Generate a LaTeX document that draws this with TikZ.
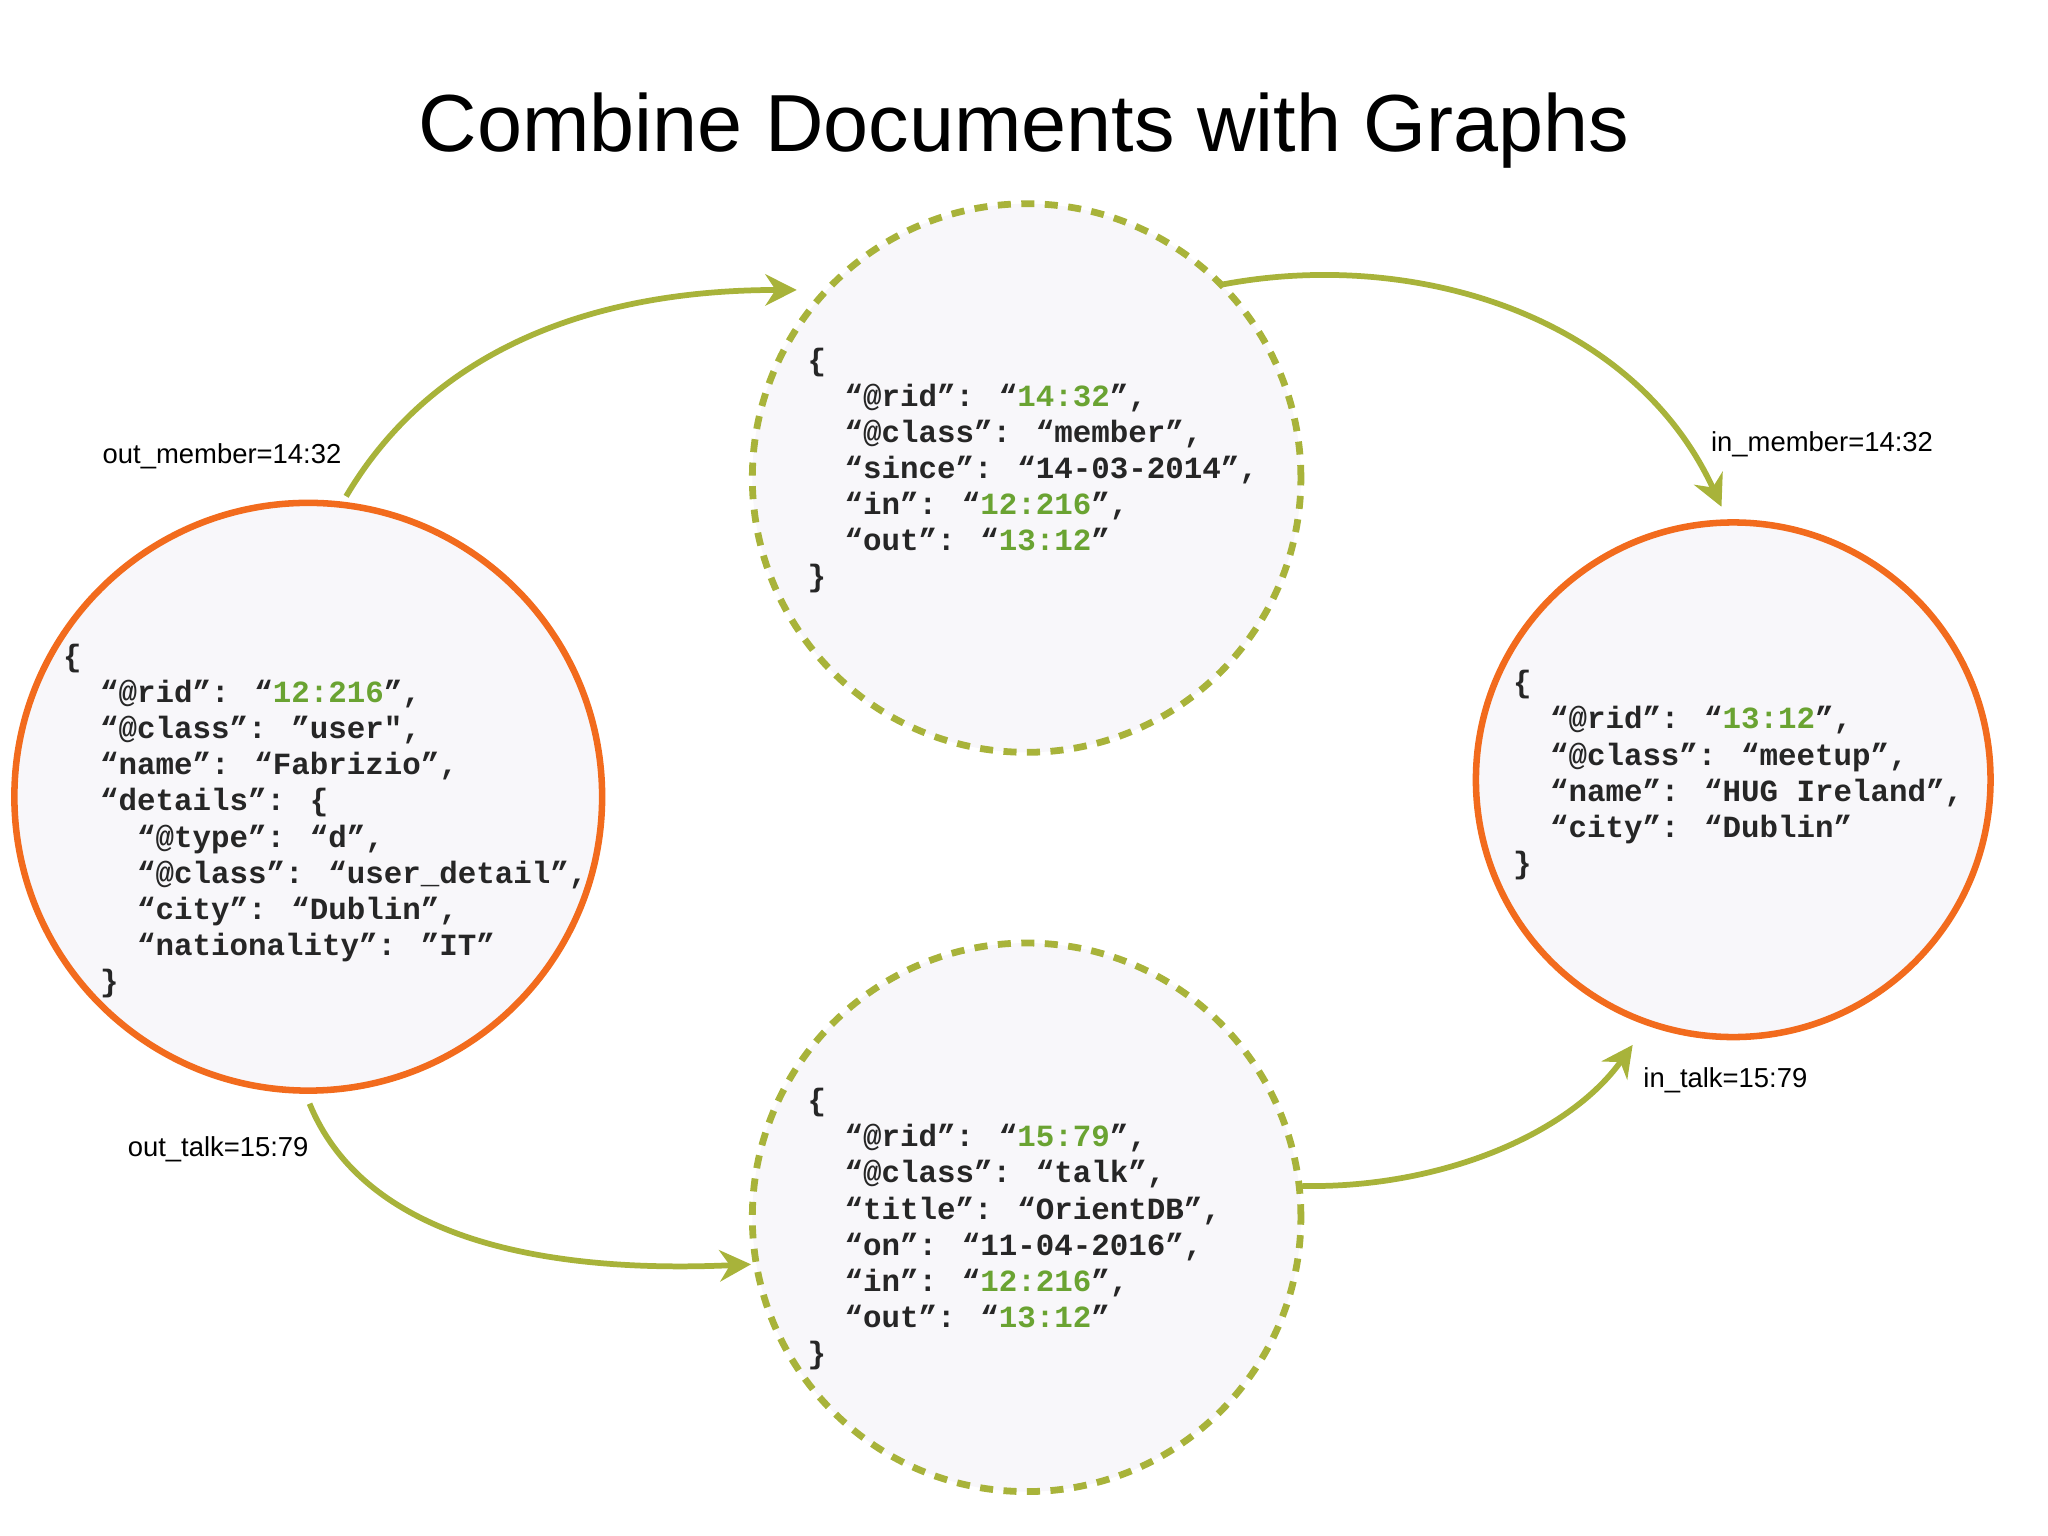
\documentclass[tikz,border=0pt]{standalone}
\usepackage{fontspec}
\setmainfont{Liberation Sans}
\newfontfamily\monof{Liberation Mono}
\usetikzlibrary{arrows.meta}
\definecolor{orng}{HTML}{F26B1D}
\definecolor{olive}{HTML}{A8B33A}
\definecolor{jgreen}{HTML}{6AA332}
\definecolor{fillc}{HTML}{F8F7FA}
\newcommand{\gv}[1]{\textcolor{jgreen}{#1}}
\newcommand{\ii}{\phantom{xx}}
\tikzset{
  doc/.style={circle,draw=orng,line width=2.5pt,fill=fillc,inner sep=0pt},
  edge/.style={circle,draw=olive,line width=2.6pt,dash pattern=on 5pt off 4pt,fill=fillc,inner sep=0pt},
  json/.style={anchor=north west,inner sep=0pt,align=left,font=\monof\bfseries\fontsize{11.8}{13.8}\selectfont,text=black!85},
  conn/.style={draw=olive,line width=2.2pt,-{Stealth[length=12pt,width=12pt]}},
  lab/.style={font=\fontsize{10.5}{12}\selectfont}
}
\begin{document}
\begin{tikzpicture}[x=0.5pt,y=-0.5pt]
\useasboundingbox (0,0) rectangle (1568,1176);
\node[font=\fontsize{31}{36}\selectfont] (title) at (784,100) {Combine Documents with Graphs};
\node[doc,minimum size=225pt] (user) at (236,610) {};
\node[doc,minimum size=197pt] (meet) at (1327,597) {};
\node[edge,minimum size=210pt] (member) at (786,366) {};
\node[edge,minimum size=210pt] (talk) at (786,932) {};
\node[json] (tmember) at (618,266) {\{\\
\ii“@rid”: “\gv{14:32}”,\\
\ii“@class”: “member”,\\
\ii“since”: “14-03-2014”,\\
\ii“in”: “\gv{12:216}”,\\
\ii“out”: “\gv{13:12}”\\
\}};
\node[json] (tuser) at (48,493) {\{\\
\ii“@rid”: “\gv{12:216}”,\\
\ii“@class”: ”user",\\
\ii“name”: “Fabrizio”,\\
\ii“details”: \{\\
\ii\ii“@type”: “d”,\\
\ii\ii“@class”: “user\_detail”,\\
\ii\ii“city”: “Dublin”,\\
\ii\ii“nationality”: ”IT”\\
\ii\}};
\node[json] (tmeet) at (1158,513) {\{\\
\ii“@rid”: “\gv{13:12}”,\\
\ii“@class”: “meetup”,\\
\ii“name”: “HUG Ireland”,\\
\ii“city”: “Dublin”\\
\}};
\node[json] (ttalk) at (618,833) {\{\\
\ii“@rid”: “\gv{15:79}”,\\
\ii“@class”: “talk”,\\
\ii“title”: “OrientDB”,\\
\ii“on”: “11-04-2016”,\\
\ii“in”: “\gv{12:216}”,\\
\ii“out”: “\gv{13:12}”\\
\}};
\coordinate (a1) at (265,380); \coordinate (a2) at (610,222);
\coordinate (b1) at (935,218); \coordinate (b2) at (1318,388);
\coordinate (c1) at (237,845); \coordinate (c2) at (575,968);
\coordinate (d1) at (997,908); \coordinate (d2) at (1250,800);
\draw[conn] (a1) .. controls (330,270) and (450,222) .. (a2);
\draw[conn] (b1) .. controls (1080,190) and (1250,240) .. (b2);
\draw[conn] (c1) .. controls (280,950) and (420,975) .. (c2);
\draw[conn] (d1) .. controls (1100,910) and (1200,870) .. (d2);
\node[lab] (l1) at (170,349) {out\_member=14:32};
\node[lab] (l2) at (1395,340) {in\_member=14:32};
\node[lab] (l3) at (167,880) {out\_talk=15:79};
\node[lab] (l4) at (1321,827) {in\_talk=15:79};
\end{tikzpicture}
\end{document}
